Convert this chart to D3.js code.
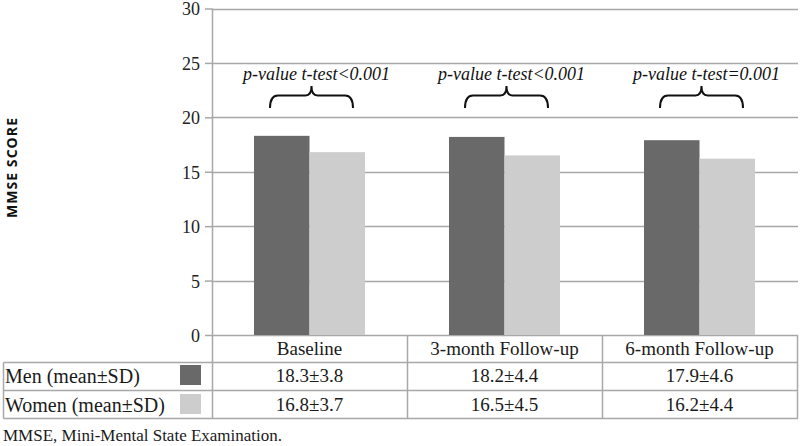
<!DOCTYPE html>
<html>
<head>
<meta charset="utf-8">
<script src="https://cdn.jsdelivr.net/npm/d3@7"></script>
<style>
  html, body { margin: 0; padding: 0; background: #fff; }
  svg { display: block; }
  .serif { font-family: "Liberation Serif", "Times New Roman", Times, serif; }
  .sans { font-family: "Open Sans", "Liberation Sans", sans-serif; }
</style>
</head>
<body>
<svg id="chart" width="800" height="446"></svg>
<script>
// ---- data ----
const categories = ["Baseline", "3-month Follow-up", "6-month Follow-up"];
const series = ["Men (mean\u00B1SD)", "Women (mean\u00B1SD)"];
const menMeans = [18.3, 18.2, 17.9];
const womenMeans = [16.8, 16.5, 16.2];
const menLabels = ["18.3\u00B13.8", "18.2\u00B14.4", "17.9\u00B14.6"];
const womenLabels = ["16.8\u00B13.7", "16.5\u00B14.5", "16.2\u00B14.4"];
const pLabels = ["p-value t-test<0.001", "p-value t-test<0.001", "p-value t-test=0.001"];
const yTicks = [0, 5, 10, 15, 20, 25, 30];
const yTitle = "MMSE SCORE";
const footnote = "MMSE, Mini-Mental State Examination.";

(function () {
// ---- layout ----
const svg = d3.select("#chart");
const pLeft = 212, pRight = 797, pTop = 8.5, pBottom = 335;
const colors = ["#696969", "#cdcdcd"];
const gridColor = "#a8a8a8";

const y = d3.scaleLinear().domain([0, 30]).range([pBottom, pTop]);
const x0 = d3.scaleBand().domain(categories).range([pLeft, pRight]).padding(0);
const x1 = d3.scaleBand().domain(series).range([0, x0.bandwidth()]).paddingInner(0).paddingOuter(0.757);

// gridlines
svg.append("g").selectAll("line").data(yTicks).join("line")
  .attr("x1", pLeft).attr("x2", pRight + 1)
  .attr("y1", d => Math.round(y(d)) + 0.5).attr("y2", d => Math.round(y(d)) + 0.5)
  .attr("stroke", gridColor).attr("stroke-width", 1.5);

// y axis
const yAxis = d3.axisLeft(y).tickValues(yTicks).tickSize(7).tickPadding(5);
const gy = svg.append("g").attr("transform", `translate(${pLeft},0)`).call(yAxis);
gy.attr("font-family", null).attr("font-size", null);
gy.select(".domain").remove();
gy.selectAll(".tick line").attr("stroke", gridColor).attr("stroke-width", 1.5);
gy.selectAll(".tick text").attr("class", "serif").style("font-size", "18px").attr("fill", "#222").attr("dy", "0.36em");

// bars
const data = categories.map((c, i) => ({cat: c, vals: [menMeans[i], womenMeans[i]]}));
const groups = svg.append("g").selectAll("g").data(data).join("g")
  .attr("transform", d => `translate(${x0(d.cat)},0)`);
groups.selectAll("rect").data(d => d.vals.map((v, j) => ({s: series[j], v, j}))).join("rect")
  .attr("x", d => x1(d.s)).attr("width", x1.bandwidth())
  .attr("y", d => y(d.v)).attr("height", d => y(0) - y(d.v))
  .attr("fill", d => colors[d.j]);

// vertical axis line (extends through table)
const tableTop = pBottom, row1 = 362.5, row2 = 390.5, tableBottom = 418.5, tableLeft = 3.5;
svg.append("line").attr("x1", pLeft + 0.5).attr("x2", pLeft + 0.5).attr("y1", pTop).attr("y2", tableBottom)
  .attr("stroke", gridColor).attr("stroke-width", 1.5);

// table lines
const tbl = svg.append("g").attr("stroke", gridColor).attr("stroke-width", 1.5);
categories.forEach(c => {
  const xr = x0(c) + x0.bandwidth();
  tbl.append("line").attr("x1", xr + 0.5).attr("x2", xr + 0.5).attr("y1", tableTop).attr("y2", tableBottom);
});
[row1, row2, tableBottom].forEach(yy => {
  tbl.append("line").attr("x1", tableLeft).attr("x2", pRight + 1).attr("y1", yy).attr("y2", yy);
});
tbl.append("line").attr("x1", tableLeft).attr("x2", tableLeft).attr("y1", row1).attr("y2", tableBottom);

// table header
svg.append("g").selectAll("text").data(categories).join("text")
  .attr("class", "serif")
  .attr("x", d => x0(d) + x0.bandwidth() / 2).attr("y", 355)
  .attr("text-anchor", "middle").style("font-size", "19px").attr("fill", "#1a1a1a")
  .text(d => d);

// table rows
const rowLabels = [menLabels, womenLabels];
const rowBase = [382, 411];
series.forEach((s, j) => {
  svg.append("text").attr("class", "serif").attr("x", 5).attr("y", rowBase[j] + 1)
    .style("font-size", "20px").attr("fill", "#1a1a1a").text(s);
  svg.append("rect").attr("x", 180).attr("y", j === 0 ? 365 : 394).attr("width", 21).attr("height", 20)
    .attr("fill", colors[j]);
  svg.append("g").selectAll("text").data(categories).join("text")
    .attr("class", "serif")
    .attr("x", d => x0(d) + x0.bandwidth() / 2).attr("y", rowBase[j])
    .attr("text-anchor", "middle").style("font-size", "19px").attr("fill", "#1a1a1a")
    .text((d, i) => rowLabels[j][i]);
});

// p-value annotations and braces
const ann = svg.append("g");
categories.forEach((c, i) => {
  const cx = x0(c) + x0.bandwidth() / 2;
  ann.append("text").attr("class", "serif").attr("x", cx + 7).attr("y", 80).attr("text-anchor", "middle")
    .style("font-style", "italic").style("font-size", "18px").attr("fill", "#111")
    .text(pLabels[i]);
  const bx = cx + 2, hw = 41.5, yb = 108, ym = 95.5, yt = 86;
  const p = `M${bx - hw},${yb} Q${bx - hw},${ym} ${bx - hw + 8},${ym} L${bx - 6},${ym} Q${bx},${ym} ${bx},${yt} Q${bx},${ym} ${bx + 6},${ym} L${bx + hw - 8},${ym} Q${bx + hw},${ym} ${bx + hw},${yb}`;
  ann.append("path").attr("d", p).attr("fill", "none").attr("stroke", "#111").attr("stroke-width", 2);
});

// y title
svg.append("text").attr("class", "sans").attr("transform", "translate(17,168) rotate(-90)").attr("text-anchor", "middle")
  .style("font-weight", "bold").style("font-size", "14px")
  .attr("textLength", 100).attr("lengthAdjust", "spacing")
  .attr("fill", "#111").text(yTitle);

// footnote
svg.append("text").attr("class", "serif").attr("x", 3).attr("y", 441).style("font-size", "17px")
  .attr("fill", "#1a1a1a").text(footnote);
})();
</script>
</body>
</html>
